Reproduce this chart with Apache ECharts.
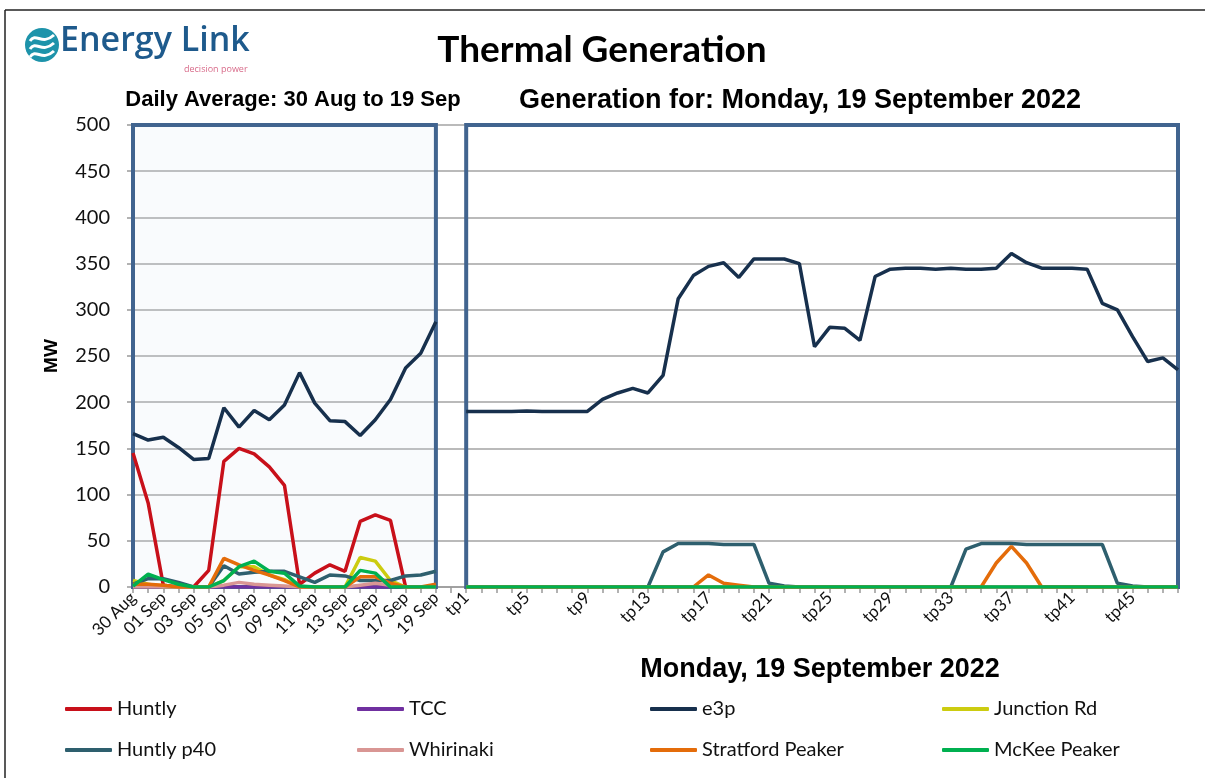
<!DOCTYPE html>
<html>
<head>
<meta charset="utf-8">
<title>Thermal Generation</title>
<script src="https://cdn.jsdelivr.net/npm/echarts@6/dist/echarts.min.js"></script>
<style>
  html, body { margin: 0; padding: 0; background: #fff; }
  #main { width: 1205px; height: 778px; }
</style>
</head>
<body>
<div id="main"></div>
<script>
// daily averages, 30 Aug - 19 Sep
var days = ['30 Aug', '31 Aug', '01 Sep', '02 Sep', '03 Sep', '04 Sep', '05 Sep', '06 Sep', '07 Sep', '08 Sep',
  '09 Sep', '10 Sep', '11 Sep', '12 Sep', '13 Sep', '14 Sep', '15 Sep', '16 Sep', '17 Sep', '18 Sep', '19 Sep'];

// trading periods for Monday 19 Sep
var tps = [];
for (var i = 1; i <= 48; i++) tps.push('tp' + i);

var dayHuntly    = [145, 91, 2, 0, 0, 18, 136, 150, 144, 130, 110, 3, 15, 24, 17, 71, 78, 72, 0, 0, 0];
var dayTCC       = [0, 0, 0, 0, 0, 0, 0, 0, 0, 0, 0, 0, 0, 0, 0, 0, 0, 0, 0, 0, 0];
var dayE3p       = [166, 159, 162, 151, 138, 139, 194, 173, 191, 181, 197, 232, 199, 180, 179, 164, 181, 203, 237, 253, 287];
var dayJunction  = [7, 3, 0, 0, 0, 0, 7, 22, 22, 13, 8, 0, 0, 0, 0, 32, 28, 7, 0, 0, 0];
var dayHuntlyP40 = [3, 9, 9, 5, 0, 0, 23, 14, 16, 17, 17, 11, 5, 13, 12, 7, 7, 7, 12, 13, 17];
var dayWhirinaki = [0, 0, 0, 0, 0, 0, 2, 5, 3, 2, 1, 0, 0, 0, 0, 2, 4, 2, 0, 0, 0];
var dayStratford = [3, 3, 2, 0, 0, 0, 31, 24, 18, 13, 7, 0, 0, 0, 0, 11, 11, 4, 0, 0, 3];
var dayMcKee     = [1, 14, 8, 3, 0, 0, 7, 22, 28, 17, 15, 1, 0, 0, 0, 18, 15, 0, 0, 0, 0];

var zeros48 = [];
for (var j = 0; j < 48; j++) zeros48.push(0);

var tpHuntly    = zeros48.slice();
var tpTCC       = zeros48.slice();
var tpE3p       = [190, 190, 190, 190, 190.5, 190, 190, 190, 190, 203, 210, 215, 210, 229, 312, 337, 347, 351, 335, 355,
                   355, 355, 350, 260, 281, 280, 267, 336, 344, 345, 345, 344, 345, 344, 344, 345, 361, 351, 345, 345,
                   345, 344, 307, 300, 271, 244, 248, 235];
var tpJunction  = zeros48.slice();
var tpHuntlyP40 = [0, 0, 0, 0, 0, 0, 0, 0, 0, 0, 0, 0, 0, 38, 47, 47, 47, 46, 46, 46,
                   4, 1, 0, 0, 0, 0, 0, 0, 0, 0, 0, 0, 0, 41, 47, 47, 47, 46, 46, 46,
                   46, 46, 46, 4, 1, 0, 0, 0];
var tpWhirinaki = zeros48.slice();
var tpStratford = [0, 0, 0, 0, 0, 0, 0, 0, 0, 0, 0, 0, 0, 0, 0, 0, 13, 4, 2, 0,
                   0, 0, 0, 0, 0, 0, 0, 0, 0, 0, 0, 0, 0, 0, 0, 26, 44, 26, 0, 0,
                   0, 0, 0, 0, 0, 0, 0, 0];
var tpMcKee     = zeros48.slice();

var names  = ['Huntly', 'TCC', 'e3p', 'Junction Rd', 'Huntly p40', 'Whirinaki', 'Stratford Peaker', 'McKee Peaker'];
var colors = ['#c8101a', '#7030a0', '#17304d', '#cccc10', '#2e5f6e', '#d99694', '#e46c0a', '#00b050'];
var dayData = [dayHuntly, dayTCC, dayE3p, dayJunction, dayHuntlyP40, dayWhirinaki, dayStratford, dayMcKee];
var tpData  = [tpHuntly, tpTCC, tpE3p, tpJunction, tpHuntlyP40, tpWhirinaki, tpStratford, tpMcKee];

// one axis: days, an empty gap slot, then trading periods
var categories = days.concat([''], tps);

var dom = document.getElementById('main');
var myChart = echarts.init(dom, null, { renderer: 'canvas' });

var panelBorder = '#41648f';

var series = names.map(function (n, k) {
  var s = {
    name: n,
    type: 'line',
    symbol: 'none',
    connectNulls: false,
    lineStyle: { width: 3.5, color: colors[k] },
    itemStyle: { color: colors[k] },
    data: dayData[k].concat([null], tpData[k])
  };
  if (k === 0) {
    s.markArea = {
      silent: true,
      label: { show: false },
      data: [
        [{ xAxis: days[0], yAxis: 0, itemStyle: { color: 'rgba(214,225,242,0.14)', borderColor: panelBorder, borderWidth: 4 } },
         { xAxis: days[days.length - 1], yAxis: 500 }],
        [{ xAxis: tps[0], yAxis: 0, itemStyle: { color: 'rgba(255,255,255,0)', borderColor: panelBorder, borderWidth: 4 } },
         { xAxis: tps[tps.length - 1], yAxis: 500 }]
      ]
    };
  }
  return s;
});

function legendCol(x, items) {
  return {
    orient: 'vertical',
    left: x,
    top: 697,
    padding: 0,
    data: items,
    icon: 'roundRect',
    itemWidth: 47,
    itemHeight: 4,
    itemGap: 17,
    textStyle: { fontFamily: 'Lato', fontSize: 20, color: '#111', lineHeight: 24 }
  };
}

function wave(y) {
  return {
    type: 'bezierCurve',
    shape: { x1: 30, y1: y, cpx1: 36, cpy1: y - 9, cpx2: 42, cpy2: y + 5, x2: 54, y2: y - 6 },
    style: { fill: 'none', stroke: '#fff', lineWidth: 3 },
    silent: true
  };
}

var option = {
  animation: false,
  color: colors,
  grid: { left: 133, right: 27, top: 125, bottom: 191 },
  legend: [
    legendCol(65, ['Huntly', 'Huntly p40']),
    legendCol(357, ['TCC', 'Whirinaki']),
    legendCol(650, ['e3p', 'Stratford Peaker']),
    legendCol(942, ['Junction Rd', 'McKee Peaker'])
  ],
  xAxis: {
    type: 'category',
    data: categories,
    boundaryGap: false,
    axisLine: { show: true, lineStyle: { color: '#999', width: 1.5 } },
    axisTick: { show: true, interval: 0, length: 6, lineStyle: { color: '#999', width: 1.5 } },
    axisLabel: {
      rotate: 45,
      margin: 8,
      fontFamily: 'Lato',
      fontSize: 17,
      color: '#111',
      interval: function (index) {
        if (index <= 20) return index % 2 === 0;
        if (index >= 22) return (index - 22) % 4 === 0;
        return false;
      }
    },
    splitLine: { show: false }
  },
  yAxis: {
    type: 'value',
    min: 0,
    max: 500,
    interval: 50,
    name: 'MW',
    nameLocation: 'middle',
    nameRotate: 90,
    nameGap: 72,
    nameTextStyle: { fontFamily: 'Liberation Sans', fontWeight: 'bold', fontSize: 19, color: '#000' },
    axisLine: { show: false },
    axisTick: { show: true, length: 6, lineStyle: { color: '#999', width: 1.5 } },
    axisLabel: { fontFamily: 'Lato', fontSize: 20, color: '#111', margin: 23 },
    splitLine: { show: true, lineStyle: { color: '#a3a3a3', width: 1.5 } }
  },
  graphic: [
    // page frame
    { type: 'line', shape: { x1: 5, y1: 10, x2: 1205, y2: 10 }, style: { stroke: '#222', lineWidth: 1.5 }, silent: true },
    { type: 'line', shape: { x1: 5, y1: 10, x2: 5, y2: 778 }, style: { stroke: '#222', lineWidth: 1.5 }, silent: true },
    // logo
    { type: 'circle', shape: { cx: 42, cy: 45, r: 17 }, style: { fill: '#1d93aa' }, silent: true },
    wave(41), wave(49), wave(57),
    { type: 'text', left: 60, top: 24, style: { text: 'Energy Link', font: '600 34px "Open Sans"', fill: '#1e5a8c' }, silent: true },
    { type: 'text', left: 184, top: 65, style: { text: 'decision power', font: '9px "Open Sans"', fill: '#d86b8a' }, silent: true },
    // titles
    { type: 'text', x: 602, y: 50, style: { text: 'Thermal Generation', font: 'bold 37px Lato', fill: '#000', textAlign: 'center', textVerticalAlign: 'middle' }, silent: true },
    { type: 'text', x: 293, y: 100, style: { text: 'Daily Average: 30 Aug to 19 Sep', font: 'bold 22px "Liberation Sans"', fill: '#000', textAlign: 'center', textVerticalAlign: 'middle' }, silent: true },
    { type: 'text', x: 800, y: 101, style: { text: 'Generation for: Monday, 19 September 2022', font: 'bold 27px "Liberation Sans"', fill: '#000', textAlign: 'center', textVerticalAlign: 'middle' }, silent: true },
    { type: 'text', x: 820, y: 670, style: { text: 'Monday, 19 September 2022', font: 'bold 27px "Liberation Sans"', fill: '#000', textAlign: 'center', textVerticalAlign: 'middle' }, silent: true }
  ],
  series: series
};

if (option && typeof option === 'object') {
  myChart.setOption(option);
}

window.addEventListener('resize', myChart.resize);
</script>
</body>
</html>
